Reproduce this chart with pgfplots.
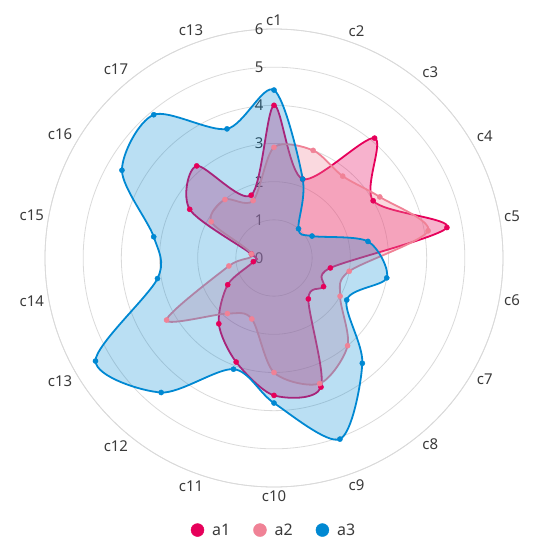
\documentclass[border=0pt]{standalone}
\usepackage{pgfplots}
\pgfplotsset{compat=1.18}
\usepgfplotslibrary{polar}
\usepackage{fontspec}
\setmainfont{Noto Sans}
\definecolor{cA}{HTML}{E6005A}
\definecolor{cB}{HTML}{F08296}
\definecolor{cC}{HTML}{0088D2}
\definecolor{gridc}{HTML}{DADADA}
\definecolor{txt}{HTML}{3A3A3A}
\begin{document}
\begin{tikzpicture}
\begin{polaraxis}[
  scale only axis, width=458bp, height=458bp,
  xmin=90, xmax=450, ymin=0, ymax=6,
  xtick={90,110,...,430},
  xticklabels={c1,c13,c17,c16,c15,c14,c13,c12,c11,c10,c9,c8,c7,c6,c5,c4,c3,c2},
  ytick={0,1,...,6},
  ymajorgrids, xmajorgrids=false,
  major grid style={gridc, line width=0.8pt},
  separate axis lines,
  x axis line style={gridc, line width=0.8pt},
  y axis line style={draw=none},
  major tick length=0pt,
  tick label style={font=\fontsize{15}{17}\selectfont, text=txt},
  yticklabel style={anchor=east, xshift=-7pt},
  /pgf/number format/assume math mode=true,
  legend columns=3,
  legend style={draw=none, at={(0.5,-0.094)}, anchor=center,
    font=\fontsize{16}{18}\selectfont, column sep=6bp, text=txt,
    /tikz/every even column/.append style={column sep=21bp}},
]
% a1
\addplot[forget plot, smooth cycle, draw=cA, line width=1.8pt, fill=cA, fill opacity=0.3,
  mark=*, mark size=2.6pt, mark options={fill=cA, fill opacity=1, line width=0.4pt}] coordinates {
  (90,4.0) (430,2.2) (410,4.1) (390,3.0) (370,4.6) (350,1.5) (330,1.5) (310,1.4) (290,3.6)
  (270,3.6) (250,2.9) (230,2.25) (210,1.4) (190,0.55) (170,0.6) (150,2.55) (130,3.15) (110,1.75)};
% a2
\addplot[forget plot, smooth cycle, draw=cB, line width=1.8pt, fill=cB, fill opacity=0.3,
  mark=*, mark size=2.6pt, mark options={fill=cB, fill opacity=1, line width=0.4pt}] coordinates {
  (90,2.9) (430,3.0) (410,2.8) (390,3.2) (370,4.1) (350,2.0) (330,2.0) (310,3.0) (290,3.5)
  (270,3.0) (250,1.7) (230,1.9) (210,3.25) (190,1.2) (170,0.6) (150,1.9) (130,2.0) (110,1.6)};
% a3
\addplot[forget plot, smooth cycle, draw=cC, line width=1.8pt, fill=cC, fill opacity=0.27,
  mark=*, mark size=2.6pt, mark options={fill=cC, fill opacity=1, line width=0.4pt}] coordinates {
  (90,4.4) (430,2.2) (410,1.0) (390,1.15) (370,2.5) (350,3.0) (330,2.2) (310,3.6) (290,5.05)
  (270,3.8) (250,3.1) (230,4.6) (210,5.4) (190,3.1) (170,3.2) (150,4.6) (130,4.9) (110,3.6)};
\addlegendimage{legend image code/.code={\fill[cA] (0bp,0bp) circle (6.5bp);}}
\addlegendentry{a1}
\addlegendimage{legend image code/.code={\fill[cB] (0bp,0bp) circle (6.5bp);}}
\addlegendentry{a2}
\addlegendimage{legend image code/.code={\fill[cC] (0bp,0bp) circle (6.5bp);}}
\addlegendentry{a3}
\coordinate (O) at (axis cs:0,0);
\end{polaraxis}
\pgfresetboundingbox
\path[use as bounding box] (O) ++(-274bp,258bp) rectangle ++(543bp,-550bp);
\end{tikzpicture}
\end{document}
